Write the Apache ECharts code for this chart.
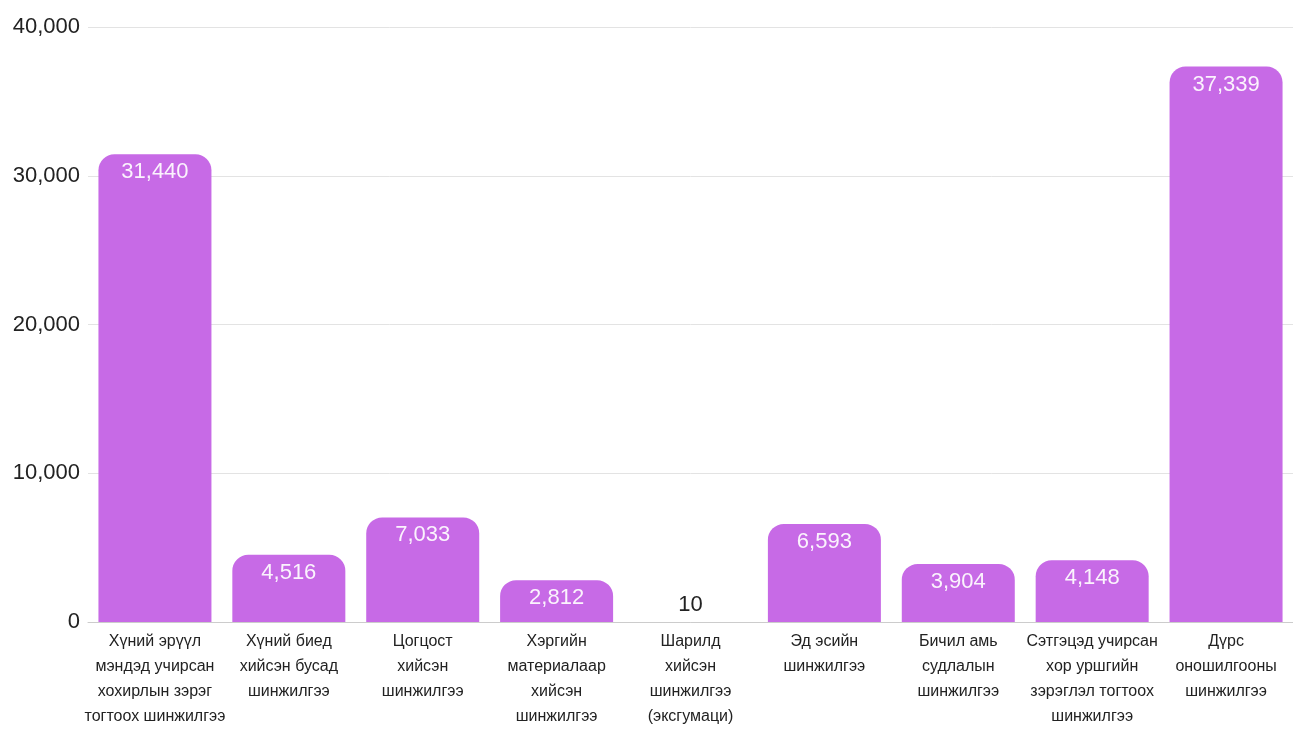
<!DOCTYPE html>
<html>
<head>
<meta charset="utf-8">
<script src="https://cdn.jsdelivr.net/npm/echarts@6/dist/echarts.min.js"></script>
<style>
html,body{margin:0;padding:0;background:#fff;}
#chart{width:1293px;height:731px;}
</style>
</head>
<body>
<div id="chart"></div>
<script>
const categories = [
  "Хүний эрүүл\nмэндэд учирсан\nхохирлын зэрэг\nтогтоох шинжилгээ",
  "Хүний биед\nхийсэн бусад\nшинжилгээ",
  "Цогцост\nхийсэн\nшинжилгээ",
  "Хэргийн\nматериалаар\nхийсэн\nшинжилгээ",
  "Шарилд\nхийсэн\nшинжилгээ\n(эксгумаци)",
  "Эд эсийн\nшинжилгээ",
  "Бичил амь\nсудлалын\nшинжилгээ",
  "Сэтгэцэд учирсан\nхор уршгийн\nзэрэглэл тогтоох\nшинжилгээ",
  "Дүрс\nоношилгооны\nшинжилгээ"
];
const values = [31440, 4516, 7033, 2812, 10, 6593, 3904, 4148, 37339];
const yTicks = [0, 10000, 20000, 30000, 40000];

const FONT = '"Liberation Sans", Arial, sans-serif';
const chart = echarts.init(document.getElementById('chart'));
chart.setOption({
  animation: false,
  backgroundColor: '#fff',
  textStyle: { fontFamily: FONT },
  grid: { left: 88, width: 1210, top: 27, height: 595, containLabel: false },
  xAxis: {
    type: 'category',
    data: categories,
    axisLine: { show: true, lineStyle: { color: '#cccccc', width: 1 } },
    axisTick: { show: false },
    axisLabel: {
      interval: 0, margin: 7, color: '#222', fontSize: 16, lineHeight: 25,
      fontFamily: FONT
    }
  },
  yAxis: {
    type: 'value',
    min: yTicks[0], max: yTicks[yTicks.length - 1], interval: 10000,
    axisLine: { show: false },
    axisTick: { show: false },
    splitLine: { lineStyle: { color: '#e3e3e3', width: 1 } },
    axisLabel: {
      margin: 8, color: '#222', fontSize: 22, fontFamily: FONT,
      formatter: v => v.toLocaleString('en-US')
    }
  },
  series: [{
    type: 'bar',
    data: values.map(v => v < 1000 ? {
      value: v,
      itemStyle: { color: 'rgba(0,0,0,0)' },
      label: { position: 'top', color: '#222', distance: 6 }
    } : v),
    barWidth: 113,
    itemStyle: { color: '#c76ae6', borderRadius: [16, 16, 0, 0] },
    label: {
      show: true, position: 'insideTop', distance: 7,
      color: '#fbf3fd', fontSize: 22, fontFamily: FONT,
      formatter: p => p.value.toLocaleString('en-US')
    }
  }]
});
</script>
</body>
</html>
